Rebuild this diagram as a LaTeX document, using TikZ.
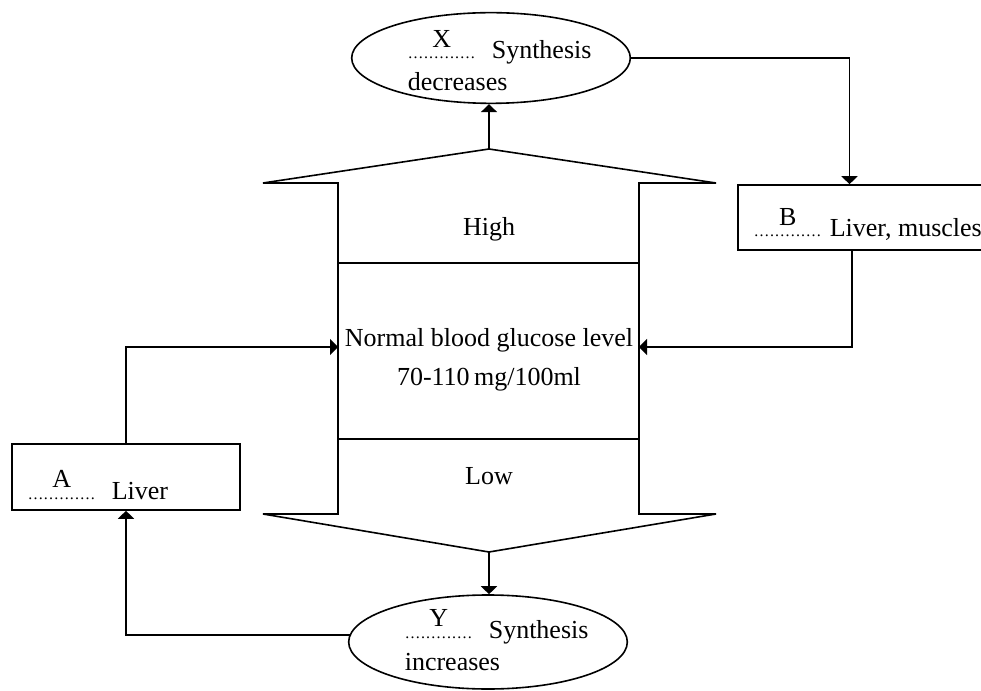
\documentclass[tikz,border=0pt]{standalone}
\usepackage{fontspec}
\setmainfont{Liberation Serif}
\usetikzlibrary{shapes.geometric,arrows.meta}

\newcommand{\blankfill}[2][12pt]{\rlap{\hbox to 51pt{\hss\raisebox{8.5pt}{#2}\hss}}\hbox to 51pt{\leaders\hbox to 3.9pt{\hss\fontsize{12}{12}\selectfont.\hss}\hfill}\hspace{#1}}

\begin{document}
\begin{tikzpicture}[x=0.75pt,y=-0.75pt,line width=1.2pt,
  every node/.style={font=\fontsize{19.5}{24}\selectfont,inner sep=0pt},
  oval/.style={draw,ellipse,minimum width=209pt,minimum height=68pt},
  box/.style={draw,rectangle,minimum width=171pt,minimum height=49.5pt},
  txt/.style={anchor=base west},
  arr/.style={-{Triangle[length=6pt,width=12pt]}}]
\useasboundingbox (0,0) rectangle (981,691);
% glucose level block
\draw (263,183) -- (489,149) -- (716,183) -- (639,183) -- (639,514) -- (716,514) -- (489,552) -- (263,514) -- (338,514) -- (338,183) -- cycle;
\foreach \yy in {263,439}
  {\draw (338,\yy) -- (639,\yy);}
\coordinate (tpeak) at (489,149);
\coordinate (bpeak) at (489,552);
\coordinate (lin) at (338,347);
\coordinate (rin) at (639,347);
\node (high) at (489,236) [anchor=base] {High};
\node (normal) at (489,347) [anchor=base] {\begin{tabular}[t]{@{}c@{}}Normal blood glucose level\\[4.5pt]70-110\,mg/100ml\end{tabular}};
\node (low) at (489,484) [anchor=base] {Low};
% ovals and boxes
\node[oval] (xell) at (491,58) {};
\node[oval,minimum height=70.5pt] (yell) at (488,642) {};
\node[box] (abox) at (126,477) {};
\node[box,minimum width=185pt,minimum height=48.75pt] (bbox) at (861.5,217.5) {};
\node[txt] (xtxt) at ([shift={(-84,1)}]xell.center) {\begin{tabular}[t]{@{}l@{}}\blankfill{X}Synthesis\\decreases\end{tabular}};
\node[txt] (ytxt) at ([shift={(-84,-4)}]yell.center) {\begin{tabular}[t]{@{}l@{}}\blankfill{Y}Synthesis\\increases\end{tabular}};
\node[txt] (atxt) at ([shift={(-99,22)}]abox.center) {\blankfill{A}Liver};
\node[txt] (btxt) at ([shift={(-108.5,19.5)}]bbox.center) {\blankfill[6pt]{B}Liver, muscles};
% arrows
\draw[arr] (tpeak) -- (tpeak |- xell.south);
\draw[arr] (bpeak) -- (bpeak |- yell.north);
\draw[arr] (xell.east) -| ([shift={(-12,0)}]bbox.north);
\draw[arr] ([shift={(-9.5,0)}]bbox.south) |- (rin);
\draw[arr] (abox.north) |- (lin);
\draw[arr] (yell.177) -| (abox.south);
\end{tikzpicture}
\end{document}
